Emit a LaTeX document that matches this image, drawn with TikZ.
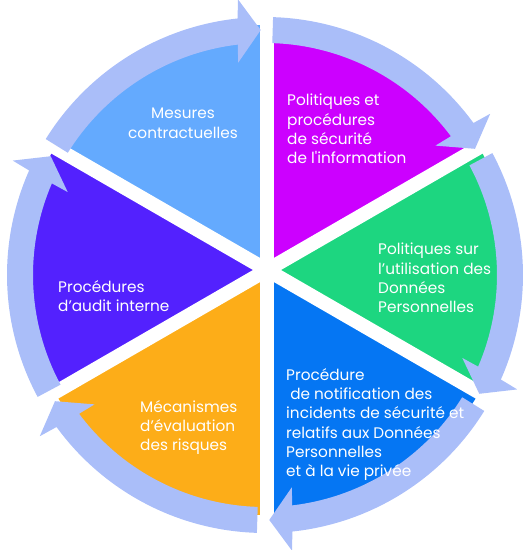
\documentclass[tikz,border=0pt]{standalone}
\usepackage{fontspec}
\setmainfont{Poppins}[Ligatures=TeXOff]
\definecolor{skyblue}{RGB}{100,170,254}
\definecolor{violetpink}{RGB}{204,0,255}
\definecolor{mint}{RGB}{29,214,128}
\definecolor{royal}{RGB}{5,118,243}
\definecolor{amber}{RGB}{253,173,24}
\definecolor{indigo}{RGB}{83,33,254}
\definecolor{ringblue}{RGB}{170,190,249}
\tikzset{
  sectortext/.style={text=white, font=\fontsize{15.3}{19.3}\selectfont, inner sep=0pt, align=left},
  gapline/.style={white, line width=14pt},
  ringarrow/.style={fill=ringblue}
}
\begin{document}
\begin{tikzpicture}[x=1pt,y=1pt]
  \useasboundingbox (-265,-275) rectangle (260,275);
  \coordinate (S) at (2,5);  % centre of the sectors

  % sectors
  \foreach \a/\c in {90/skyblue, 30/violetpink, -30/mint, -90/royal, -150/amber, 150/indigo}
    \fill[\c] (S) -- ++(\a:245) arc[start angle=\a, end angle=\a+60, radius=245] -- cycle;

  % white gaps between sectors
  \foreach \a in {90,30,-30,-90,-150,150}
    \draw[gapline] (S) -- ++(\a:252);

  % ring of arrows (clockwise)
  \foreach \b in {150,90,30,-30,-90,210}{
    \pgfmathsetmacro\s{\b-1.8}  % start of band
    \pgfmathsetmacro\t{\b-59}   % tip of head
    \fill[ringarrow] (\s:258) arc[start angle=\s, end angle=\t+5.1, radius=258]
      -- (\t+4.6:277) -- (\t:245) -- (\t+6.2:214) -- (\t+5.74:232)
      arc[start angle=\t+5.74, end angle=\s, radius=232] -- cycle;
  }

  % labels
  \node[sectortext, align=center, anchor=north] (mesures) at (-82,167) {Mesures\\contractuelles};
  \node[sectortext, anchor=north west] (politiques) at (22,181) {Politiques et\\procédures\\de sécurité\\de l'information};
  \node[sectortext, anchor=north west] (donnees) at (113,32) {Politiques sur\\l’utilisation des\\Données\\Personnelles};
  \node[sectortext, anchor=north west] (notification) at (21,-93) {Procédure\\\ de notification des\\incidents de sécurité et\\relatifs aux Données\\Personnelles\\et à la vie privée};
  \node[sectortext, anchor=north west] (risques) at (-125,-125) {Mécanismes\\d’évaluation\\des risques};
  \node[sectortext, anchor=north west] (audit) at (-207,-5) {Procédures\\d’audit interne};
\end{tikzpicture}
\end{document}
